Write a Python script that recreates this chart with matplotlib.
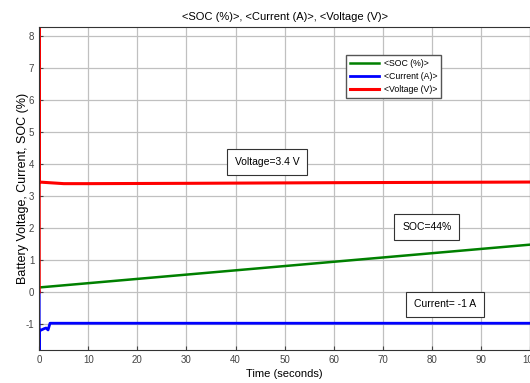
import numpy as np
import matplotlib.pyplot as plt

plt.rcParams['font.family'] = ['Liberation Sans', 'DejaVu Sans']
plt.rcParams['axes.unicode_minus'] = False

# values
t_soc = [0, 100]
soc = [0.14, 1.48]

t_cur = [0, 0, 0, 0.3, 1.0, 1.4, 1.8, 2.2, 10, 50, 100]
cur = [0, -3.0, -1.2, -1.2, -1.15, -1.13, -1.19, -0.98, -0.98, -0.98, -0.98]

t_volt = [0, 0, 0, 2, 5, 10, 30, 60, 100]
volt = [0, 12.0, 3.44, 3.42, 3.39, 3.39, 3.40, 3.42, 3.44]

fig = plt.figure(figsize=(5.3, 3.83), dpi=100)
ax = fig.add_axes([0.074, 0.086, 0.926, 0.844])

ax.plot(t_soc, soc, color='#008000', lw=1.8, label='<SOC (%)>')
ax.plot(t_cur, cur, color='#0000ff', lw=2.0, label='<Current (A)>')
ax.plot(t_volt, volt, color='#ff0000', lw=2.2, label='<Voltage (V)>')

ax.set_xlim(0, 100)
ax.set_ylim(-1.82, 8.3)
ax.set_xticks(np.arange(0, 101, 10))
ax.set_yticks(np.arange(-1, 9, 1))
ax.grid(True, color='#c0c0c0', lw=0.9)
ax.tick_params(direction='in', labelsize=7, colors='#444444', length=3)
for s in ax.spines.values():
    s.set_color('#333333')
    s.set_linewidth(0.8)

ax.set_title('<SOC (%)>, <Current (A)>, <Voltage (V)>', fontsize=8, pad=5)
ax.set_xlabel('Time (seconds)', fontsize=8, labelpad=3)
ax.set_ylabel('Battery Voltage, Current, SOC (%)', fontsize=9, labelpad=-2.5)

leg = ax.legend(loc='upper left', bbox_to_anchor=(0.617, 0.927), fontsize=6.3,
                fancybox=False, edgecolor='#555555', framealpha=1,
                handlelength=3.3, handletextpad=0.5, borderpad=0.45,
                labelspacing=0.45)

box = dict(boxstyle='square,pad=0.75', fc='white', ec='#333333', lw=0.8)
ax.text(46.4, 4.06, 'Voltage=3.4 V', fontsize=7.5, ha='center', va='center', bbox=box)
ax.text(79, 2.04, 'SOC=44%', fontsize=7.5, ha='center', va='center', bbox=box)
ax.text(82.7, -0.39, 'Current= -1 A', fontsize=7.5, ha='center', va='center', bbox=box)

fig.savefig('out.png', dpi=100)
